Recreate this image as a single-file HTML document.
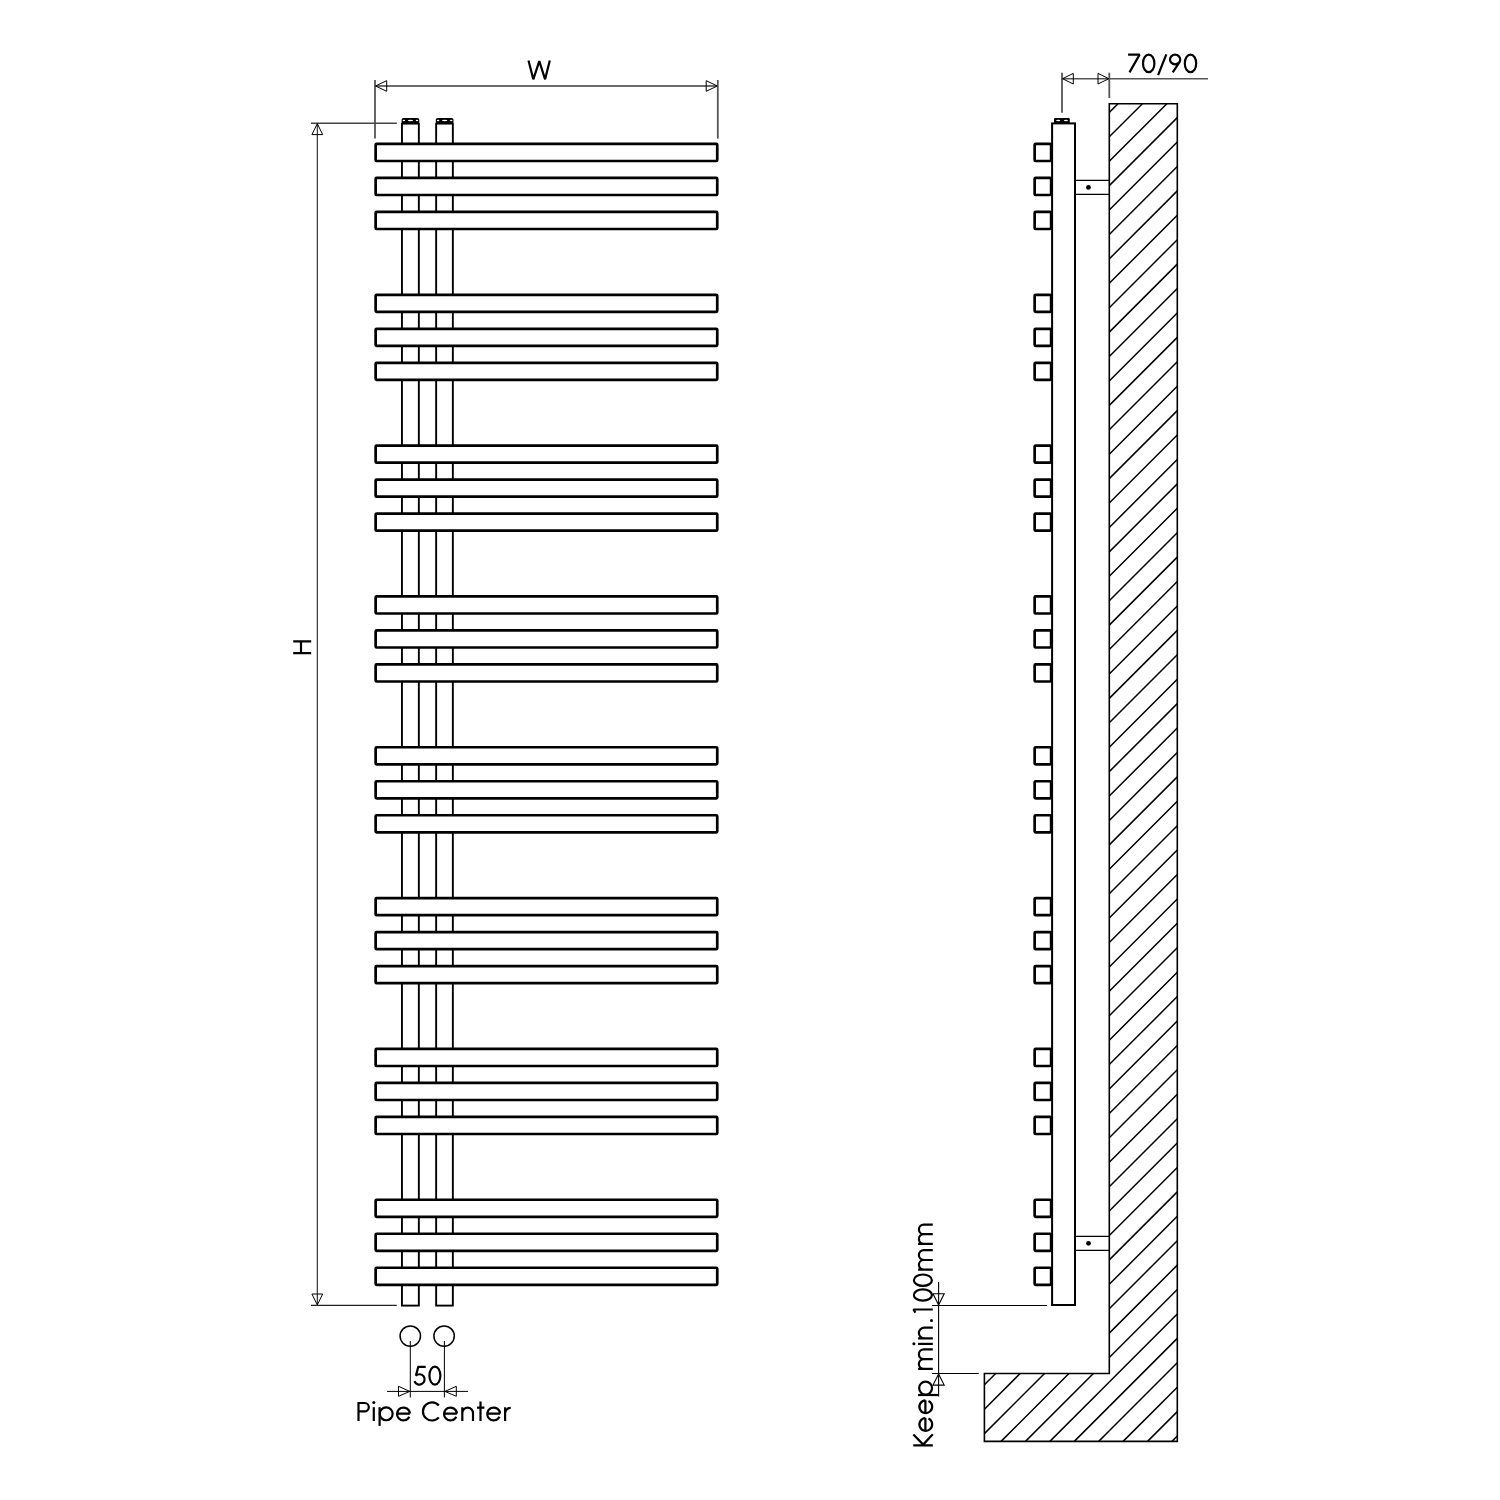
<!DOCTYPE html>
<html><head><meta charset="utf-8"><title>Radiator drawing</title>
<style>html,body{margin:0;padding:0;background:#fff;}svg{display:block;}</style>
</head><body>
<svg width="1500" height="1500" viewBox="0 0 1500 1500">
<rect width="1500" height="1500" fill="#fff"/>
<g fill="none" stroke="#000" stroke-width="1.9">
<rect x="401.95" y="123.6" width="16.9" height="1182"/>
<rect x="436.15" y="123.6" width="16.7" height="1182"/>
</g>
<rect x="401.6" y="118" width="17.7" height="5.6" rx="1.8" fill="#000"/>
<ellipse cx="403.9" cy="120.4" rx="1.25" ry="0.75" fill="#fff"/>
<ellipse cx="410.45" cy="120.5" rx="2.7" ry="0.8" fill="#fff"/>
<ellipse cx="417" cy="120.4" rx="1.25" ry="0.75" fill="#fff"/>
<rect x="435.8" y="118" width="17.7" height="5.6" rx="1.8" fill="#000"/>
<ellipse cx="438.1" cy="120.4" rx="1.25" ry="0.75" fill="#fff"/>
<ellipse cx="444.65" cy="120.5" rx="2.7" ry="0.8" fill="#fff"/>
<ellipse cx="451.2" cy="120.4" rx="1.25" ry="0.75" fill="#fff"/>
<g fill="#fff" stroke="#000" stroke-width="2.7">
<rect x="375.65" y="143.95" width="341.6" height="17.05" rx="1"/>
<rect x="375.65" y="177.95" width="341.6" height="17.05" rx="1"/>
<rect x="375.65" y="211.95" width="341.6" height="17.05" rx="1"/>
<rect x="375.65" y="294.78" width="341.6" height="17.05" rx="1"/>
<rect x="375.65" y="328.78" width="341.6" height="17.05" rx="1"/>
<rect x="375.65" y="362.78" width="341.6" height="17.05" rx="1"/>
<rect x="375.65" y="445.61" width="341.6" height="17.05" rx="1"/>
<rect x="375.65" y="479.61" width="341.6" height="17.05" rx="1"/>
<rect x="375.65" y="513.61" width="341.6" height="17.05" rx="1"/>
<rect x="375.65" y="596.44" width="341.6" height="17.05" rx="1"/>
<rect x="375.65" y="630.44" width="341.6" height="17.05" rx="1"/>
<rect x="375.65" y="664.44" width="341.6" height="17.05" rx="1"/>
<rect x="375.65" y="747.27" width="341.6" height="17.05" rx="1"/>
<rect x="375.65" y="781.27" width="341.6" height="17.05" rx="1"/>
<rect x="375.65" y="815.27" width="341.6" height="17.05" rx="1"/>
<rect x="375.65" y="898.1" width="341.6" height="17.05" rx="1"/>
<rect x="375.65" y="932.1" width="341.6" height="17.05" rx="1"/>
<rect x="375.65" y="966.1" width="341.6" height="17.05" rx="1"/>
<rect x="375.65" y="1048.93" width="341.6" height="17.05" rx="1"/>
<rect x="375.65" y="1082.93" width="341.6" height="17.05" rx="1"/>
<rect x="375.65" y="1116.93" width="341.6" height="17.05" rx="1"/>
<rect x="375.65" y="1199.76" width="341.6" height="17.05" rx="1"/>
<rect x="375.65" y="1233.76" width="341.6" height="17.05" rx="1"/>
<rect x="375.65" y="1267.76" width="341.6" height="17.05" rx="1"/>
</g>
<g stroke="#555" stroke-width="1.8" fill="none">
<line x1="375" y1="80" x2="375" y2="138.6"/>
<line x1="717.8" y1="80" x2="717.8" y2="138.6"/>
<line x1="375" y1="86" x2="717.8" y2="86" stroke="#6c6c6c"/>
</g>
<g stroke="#000" stroke-width="1" fill="none">
<polygon points="375.5,86 386.7,80.7 386.7,91.3"/>
<polygon points="717.3,86 706.2,80.7 706.2,91.3"/>
</g>
<g stroke="#222" stroke-width="1.1" fill="none">
<line x1="311" y1="123.15" x2="396.8" y2="123.15" stroke="#444" stroke-width="1.5"/>
<line x1="311" y1="1305.4" x2="396.8" y2="1305.4"/>
<line x1="317.3" y1="123.2" x2="317.3" y2="1305.4"/>
</g>
<g stroke="#000" stroke-width="1" fill="none">
<polygon points="317.3,123.7 311.9,134.6 322.7,134.6"/>
<polygon points="317.3,1304.9 311.9,1294 322.7,1294"/>
</g>
<g stroke="#000" stroke-width="1.5" fill="none">
<circle cx="410.3" cy="1336.1" r="10.2"/>
<circle cx="444.1" cy="1336.1" r="10.2"/>
</g>
<g stroke="#000" stroke-width="1" fill="none">
<line x1="410.3" y1="1341" x2="410.3" y2="1397.5"/>
<line x1="444.4" y1="1341" x2="444.4" y2="1397.5"/>
<line x1="387" y1="1391.4" x2="468" y2="1391.4"/>
<polygon points="409.8,1391.4 398.5,1386.3 398.5,1396.3"/>
<polygon points="444.9,1391.4 456.3,1386.3 456.3,1396.3"/>
</g>
<g stroke="#000" stroke-width="1.5" fill="none">
<line x1="1109.3" y1="112.4" x2="1118" y2="103.7"/>
<line x1="1109.3" y1="136.82" x2="1142.41" y2="103.7"/>
<line x1="1109.3" y1="161.23" x2="1166.83" y2="103.7"/>
<line x1="1109.3" y1="185.64" x2="1177.3" y2="117.64"/>
<line x1="1109.3" y1="210.06" x2="1177.3" y2="142.06"/>
<line x1="1109.3" y1="234.47" x2="1177.3" y2="166.47"/>
<line x1="1109.3" y1="258.89" x2="1177.3" y2="190.89"/>
<line x1="1109.3" y1="283.3" x2="1177.3" y2="215.3"/>
<line x1="1109.3" y1="307.72" x2="1177.3" y2="239.72"/>
<line x1="1109.3" y1="332.13" x2="1177.3" y2="264.13"/>
<line x1="1109.3" y1="356.55" x2="1177.3" y2="288.55"/>
<line x1="1109.3" y1="380.96" x2="1177.3" y2="312.96"/>
<line x1="1109.3" y1="405.38" x2="1177.3" y2="337.38"/>
<line x1="1109.3" y1="429.79" x2="1177.3" y2="361.79"/>
<line x1="1109.3" y1="454.21" x2="1177.3" y2="386.21"/>
<line x1="1109.3" y1="478.62" x2="1177.3" y2="410.62"/>
<line x1="1109.3" y1="503.04" x2="1177.3" y2="435.04"/>
<line x1="1109.3" y1="527.45" x2="1177.3" y2="459.45"/>
<line x1="1109.3" y1="551.87" x2="1177.3" y2="483.87"/>
<line x1="1109.3" y1="576.28" x2="1177.3" y2="508.28"/>
<line x1="1109.3" y1="600.7" x2="1177.3" y2="532.7"/>
<line x1="1109.3" y1="625.11" x2="1177.3" y2="557.11"/>
<line x1="1109.3" y1="649.53" x2="1177.3" y2="581.53"/>
<line x1="1109.3" y1="673.94" x2="1177.3" y2="605.94"/>
<line x1="1109.3" y1="698.36" x2="1177.3" y2="630.36"/>
<line x1="1109.3" y1="722.77" x2="1177.3" y2="654.77"/>
<line x1="1109.3" y1="747.19" x2="1177.3" y2="679.19"/>
<line x1="1109.3" y1="771.6" x2="1177.3" y2="703.6"/>
<line x1="1109.3" y1="796.02" x2="1177.3" y2="728.02"/>
<line x1="1109.3" y1="820.43" x2="1177.3" y2="752.43"/>
<line x1="1109.3" y1="844.85" x2="1177.3" y2="776.85"/>
<line x1="1109.3" y1="869.26" x2="1177.3" y2="801.26"/>
<line x1="1109.3" y1="893.68" x2="1177.3" y2="825.68"/>
<line x1="1109.3" y1="918.09" x2="1177.3" y2="850.09"/>
<line x1="1109.3" y1="942.51" x2="1177.3" y2="874.51"/>
<line x1="1109.3" y1="966.92" x2="1177.3" y2="898.92"/>
<line x1="1109.3" y1="991.34" x2="1177.3" y2="923.34"/>
<line x1="1109.3" y1="1015.75" x2="1177.3" y2="947.75"/>
<line x1="1109.3" y1="1040.17" x2="1177.3" y2="972.17"/>
<line x1="1109.3" y1="1064.58" x2="1177.3" y2="996.58"/>
<line x1="1109.3" y1="1089" x2="1177.3" y2="1021"/>
<line x1="1109.3" y1="1113.41" x2="1177.3" y2="1045.41"/>
<line x1="1109.3" y1="1137.83" x2="1177.3" y2="1069.83"/>
<line x1="1109.3" y1="1162.24" x2="1177.3" y2="1094.24"/>
<line x1="1109.3" y1="1186.66" x2="1177.3" y2="1118.66"/>
<line x1="1109.3" y1="1211.07" x2="1177.3" y2="1143.07"/>
<line x1="1109.3" y1="1235.49" x2="1177.3" y2="1167.49"/>
<line x1="1109.3" y1="1259.9" x2="1177.3" y2="1191.9"/>
<line x1="984.4" y1="1384.8" x2="995.7" y2="1373.5"/>
<line x1="1109.3" y1="1284.32" x2="1177.3" y2="1216.32"/>
<line x1="984.4" y1="1409.22" x2="1020.12" y2="1373.5"/>
<line x1="1109.3" y1="1308.73" x2="1177.3" y2="1240.73"/>
<line x1="984.4" y1="1433.63" x2="1044.53" y2="1373.5"/>
<line x1="1109.3" y1="1333.15" x2="1177.3" y2="1265.15"/>
<line x1="1001.05" y1="1441.4" x2="1068.95" y2="1373.5"/>
<line x1="1109.3" y1="1357.56" x2="1177.3" y2="1289.56"/>
<line x1="1025.46" y1="1441.4" x2="1093.36" y2="1373.5"/>
<line x1="1109.3" y1="1381.98" x2="1177.3" y2="1313.98"/>
<line x1="1049.88" y1="1441.4" x2="1109.3" y2="1381.98"/>
<line x1="1109.3" y1="1406.39" x2="1177.3" y2="1338.39"/>
<line x1="1074.29" y1="1441.4" x2="1109.3" y2="1406.39"/>
<line x1="1109.3" y1="1430.81" x2="1177.3" y2="1362.81"/>
<line x1="1098.71" y1="1441.4" x2="1109.3" y2="1430.81"/>
<line x1="1123.12" y1="1441.4" x2="1177.3" y2="1387.22"/>
<line x1="1147.54" y1="1441.4" x2="1177.3" y2="1411.64"/>
<line x1="1171.95" y1="1441.4" x2="1177.3" y2="1436.05"/>
</g>
<polygon points="1109.3,103.7 1177.3,103.7 1177.3,1441.4 984.4,1441.4 984.4,1373.5 1109.3,1373.5" fill="none" stroke="#000" stroke-width="1.6"/>
<rect x="1052.1" y="123.4" width="22.9" height="1181.6" fill="#fff" stroke="#000" stroke-width="2"/>
<rect x="1054" y="117.9" width="15.8" height="5.5" rx="1.3" fill="#000"/>
<ellipse cx="1058.2" cy="120.5" rx="2.1" ry="0.75" fill="#fff"/>
<ellipse cx="1065.9" cy="120.5" rx="2.1" ry="0.75" fill="#fff"/>
<g fill="#fff" stroke="#000" stroke-width="2.7">
<rect x="1034.65" y="143.95" width="16.5" height="17.05" rx="1"/>
<rect x="1034.65" y="177.95" width="16.5" height="17.05" rx="1"/>
<rect x="1034.65" y="211.95" width="16.5" height="17.05" rx="1"/>
<rect x="1034.65" y="294.78" width="16.5" height="17.05" rx="1"/>
<rect x="1034.65" y="328.78" width="16.5" height="17.05" rx="1"/>
<rect x="1034.65" y="362.78" width="16.5" height="17.05" rx="1"/>
<rect x="1034.65" y="445.61" width="16.5" height="17.05" rx="1"/>
<rect x="1034.65" y="479.61" width="16.5" height="17.05" rx="1"/>
<rect x="1034.65" y="513.61" width="16.5" height="17.05" rx="1"/>
<rect x="1034.65" y="596.44" width="16.5" height="17.05" rx="1"/>
<rect x="1034.65" y="630.44" width="16.5" height="17.05" rx="1"/>
<rect x="1034.65" y="664.44" width="16.5" height="17.05" rx="1"/>
<rect x="1034.65" y="747.27" width="16.5" height="17.05" rx="1"/>
<rect x="1034.65" y="781.27" width="16.5" height="17.05" rx="1"/>
<rect x="1034.65" y="815.27" width="16.5" height="17.05" rx="1"/>
<rect x="1034.65" y="898.1" width="16.5" height="17.05" rx="1"/>
<rect x="1034.65" y="932.1" width="16.5" height="17.05" rx="1"/>
<rect x="1034.65" y="966.1" width="16.5" height="17.05" rx="1"/>
<rect x="1034.65" y="1048.93" width="16.5" height="17.05" rx="1"/>
<rect x="1034.65" y="1082.93" width="16.5" height="17.05" rx="1"/>
<rect x="1034.65" y="1116.93" width="16.5" height="17.05" rx="1"/>
<rect x="1034.65" y="1199.76" width="16.5" height="17.05" rx="1"/>
<rect x="1034.65" y="1233.76" width="16.5" height="17.05" rx="1"/>
<rect x="1034.65" y="1267.76" width="16.5" height="17.05" rx="1"/>
</g>
<g stroke="#000" stroke-width="1.3" fill="none">
<line x1="1075" y1="180.4" x2="1109.3" y2="180.4"/>
<line x1="1075" y1="194.4" x2="1109.3" y2="194.4"/>
<line x1="1075" y1="1236.4" x2="1109.3" y2="1236.4"/>
<line x1="1075" y1="1250.35" x2="1109.3" y2="1250.35"/>
</g>
<circle cx="1088.45" cy="187.4" r="2.4" fill="#000"/>
<circle cx="1088.5" cy="1243.3" r="2.4" fill="#000"/>
<g stroke="#555" stroke-width="1.8" fill="none">
<line x1="1062" y1="72.7" x2="1062" y2="112.7"/>
<line x1="1109.3" y1="72.7" x2="1109.3" y2="98"/>
<line x1="1062" y1="78.85" x2="1208" y2="78.85" stroke-width="1.5"/>
</g>
<g stroke="#000" stroke-width="1" fill="none">
<polygon points="1062.5,78.7 1073.3,73.4 1073.3,84"/>
<polygon points="1108.8,78.7 1098,73.4 1098,84"/>
</g>
<g stroke="#000" stroke-width="1.1" fill="none">
<line x1="938.6" y1="1282" x2="938.6" y2="1396.5"/>
<line x1="932" y1="1305.5" x2="1047" y2="1305.5"/>
<line x1="932" y1="1373.5" x2="978.8" y2="1373.5"/>
<polygon points="938.6,1305 933,1293.8 944.2,1293.8"/>
<polygon points="938.6,1374 933,1385.1 944.2,1385.1"/>
</g>
<g fill="none" stroke="#000" stroke-width="2.2" stroke-linejoin="miter" stroke-miterlimit="1.6">
<path d="M528.5,60.4 L533.3,79.3 L539.3,61.2 L545.1,79.3 L549.8,60.4"/>
<path d="M425.7,1366.8 H418.3 L415.9,1375.6 A5.2,5.2 0 1 1 414.48,1381.09"/>
<path d="M429.4,1375.6 A5.5,9.05 0 1 0 440.4,1375.6 A5.5,9.05 0 1 0 429.4,1375.6 Z"/>
<path d="M358.5,1421 V1403 H364.6 A4.2,4.2 0 0 1 364.6,1411.4 H358.5"/>
<path d="M373.8,1421 V1407.2"/>
<path d="M379.6,1425.9 V1407.2"/>
<path d="M379.75,1413.8 A6.45,6.45 0 1 0 392.65,1413.8 A6.45,6.45 0 1 0 379.75,1413.8 Z"/>
<path d="M397.1,1413.6 H409.9 M409.9,1413.6 A6.4,6.4 0 1 0 409.3,1416.7"/>
<path d="M438.83,1405.51 A9.05,9.05 0 1 0 438.83,1417.39"/>
<path d="M444.1,1413.6 H456.9 M456.9,1413.6 A6.4,6.4 0 1 0 456.3,1416.7"/>
<path d="M462.3,1421 V1407.2 M462.3,1413 A5.35,5.35 0 0 1 473,1413 V1421"/>
<path d="M480.5,1421 V1401.6 M477,1407.6 H484.4"/>
<path d="M487.3,1413.6 H500.1 M500.1,1413.6 A6.4,6.4 0 1 0 499.5,1416.7"/>
<path d="M505.1,1421 V1407.2 M505.1,1413.4 A5.6,5.6 0 0 1 510.7,1407.8"/>
<path d="M1128.1,54.6 H1139.6 L1129.5,72.4"/>
<path d="M1143,63.4 A5.7,8.75 0 1 0 1154.4,63.4 A5.7,8.75 0 1 0 1143,63.4 Z"/>
<path d="M1166.3,54.3 L1158.1,75.2"/>
<path d="M1170,59.5 A5.1,4.8 0 1 0 1180.2,59.5 A5.1,4.8 0 1 0 1170,59.5 Z M1180.0,61.5 L1172.7,72.4"/>
<path d="M1184.8,63.4 A5.7,8.75 0 1 0 1196.2,63.4 A5.7,8.75 0 1 0 1184.8,63.4 Z"/>
</g>
<circle cx="373.8" cy="1402.6" r="1.5" fill="#000"/>
<path d="M293.2,641.4 H311.2 M293.2,653.1 H311.2 M301,641.4 V653.1" fill="none" stroke="#000" stroke-width="2.2"/>
<g transform="translate(932.8,0) rotate(-90)">
<g fill="none" stroke="#000" stroke-width="2.2" stroke-linejoin="miter" stroke-miterlimit="1.6">
<path d="M-1445.4,0 V-19.5 M-1434.4,-19.4 L-1444.6,-9.6 L-1434.2,0"/>
<path d="M-1430.8,-7.4 H-1418 M-1418,-7.4 A6.4,6.4 0 1 0 -1418.6,-4.3"/>
<path d="M-1413.1,-7.4 H-1400.3 M-1400.3,-7.4 A6.4,6.4 0 1 0 -1400.9,-4.3"/>
<path d="M-1395,5.5 V-14.7"/>
<path d="M-1394.55,-7.2 A6.45,6.45 0 1 0 -1381.65,-7.2 A6.45,6.45 0 1 0 -1394.55,-7.2 Z"/>
<path d="M-1368.9,0 V-14.7 M-1368.9,-9 A4.9,4.9 0 0 1 -1359.1,-9 V0 M-1359.1,-9.05 A4.85,4.85 0 0 1 -1349.4,-9.05 V0"/>
<path d="M-1343.9,0 V-14.7"/>
<path d="M-1338.4,0 V-14.7 M-1338.4,-8.55 A5.35,5.35 0 0 1 -1327.7,-8.55 V0"/>
<path d="M-1309.5,0 V-19.4 L-1312.6,-17.4"/>
<path d="M-1300.7,-9.9 A5.7,9 0 1 0 -1289.3,-9.9 A5.7,9 0 1 0 -1300.7,-9.9 Z"/>
<path d="M-1285.9,-9.9 A5.7,9 0 1 0 -1274.5,-9.9 A5.7,9 0 1 0 -1285.9,-9.9 Z"/>
<path d="M-1269.6,0 V-14.7 M-1269.6,-9.1 A4.8,4.8 0 0 1 -1260,-9.1 V0 M-1260,-9 A4.9,4.9 0 0 1 -1250.2,-9 V0"/>
<path d="M-1243.8,0 V-14.7 M-1243.8,-9.1 A4.8,4.8 0 0 1 -1234.2,-9.1 V0 M-1234.2,-9.1 A4.8,4.8 0 0 1 -1224.6,-9.1 V0"/>
</g>
<circle cx="-1343.8" cy="-18.9" r="1.55" fill="#000"/>
<circle cx="-1320.5" cy="-1.3" r="1.5" fill="#000"/>
</g>
</svg>
</body></html>
